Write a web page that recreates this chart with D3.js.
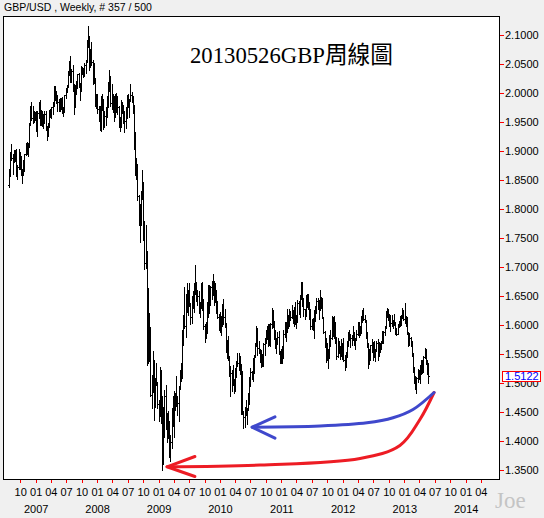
<!DOCTYPE html>
<html><head><meta charset="utf-8">
<script src="https://cdn.jsdelivr.net/npm/d3@7"></script>
<style>
html,body{margin:0;padding:0;background:#f0f0f0;}
svg{display:block;}
</style></head><body>
<svg id="chart" width="544" height="518"></svg>
<script>
// ---- data: weekly GBP/USD bars [open, high, low, close], first week starts 2006-07-24 ----
const startWeek = "2006-07-24";
const ohlc2006 = [
[1.8420,1.8700,1.8380,1.8660],[1.8660,1.9000,1.8580,1.8990],[1.8990,1.9130,1.8850,1.8880],[1.8880,1.8960,1.8620,1.8860],
[1.8860,1.9020,1.8820,1.8890],[1.8890,1.9030,1.8830,1.8990],[1.8990,1.9050,1.8580,1.8620],[1.8620,1.8760,1.8530,1.8740],
[1.8740,1.9040,1.8690,1.8960],[1.8960,1.8990,1.8690,1.8710],[1.8710,1.8920,1.8590,1.8610],[1.8610,1.8700,1.8450,1.8650],
[1.8650,1.8850,1.8590,1.8800],[1.8800,1.8960,1.8670,1.8950],[1.8950,1.9150,1.8940,1.9030],[1.9030,1.9160,1.8960,1.9090],
[1.9090,1.9150,1.8930,1.9120],[1.9120,1.9500,1.9080,1.9480],[1.9480,1.9790,1.9450,1.9760],[1.9760,1.9848,1.9540,1.9570],
[1.9570,1.9790,1.9500,1.9570],[1.9570,1.9690,1.9510,1.9660],[1.9660,1.9680,1.9550,1.9590]];
const ohlc2007 = [
[1.9590,1.9690,1.9350,1.9380],[1.9380,1.9690,1.9270,1.9660],[1.9660,1.9860,1.9580,1.9830],[1.9830,1.9880,1.9460,1.9530],
[1.9530,1.9720,1.9460,1.9610],[1.9610,1.9690,1.9440,1.9450],[1.9450,1.9650,1.9400,1.9560],[1.9560,1.9690,1.9500,1.9640],
[1.9640,1.9690,1.9370,1.9380],[1.9380,1.9440,1.9190,1.9320],[1.9320,1.9500,1.9270,1.9460],[1.9460,1.9720,1.9430,1.9640],
[1.9640,1.9730,1.9600,1.9680],[1.9680,1.9770,1.9570,1.9760],[1.9760,1.9850,1.9640,1.9800],[1.9800,2.0133,1.9790,2.0080],
[2.0080,2.0130,1.9890,1.9970],[1.9970,2.0050,1.9840,1.9930],[1.9930,1.9970,1.9700,1.9850],[1.9850,1.9900,1.9700,1.9710],
[1.9710,1.9930,1.9700,1.9900],[1.9900,1.9920,1.9740,1.9780],[1.9780,1.9940,1.9660,1.9710],[1.9710,1.9760,1.9620,1.9700],
[1.9700,1.9980,1.9680,1.9970],[1.9970,2.0090,1.9920,2.0070],[2.0070,2.0140,2.0030,2.0120],[2.0120,2.0390,2.0110,2.0340],
[2.0340,2.0560,2.0320,2.0480],[2.0480,2.0654,2.0190,2.0300],[2.0300,2.0420,2.0190,2.0380],[2.0380,2.0500,2.0050,2.0080],
[2.0080,2.0170,1.9645,1.9860],[1.9860,2.0150,1.9770,2.0140],[2.0140,2.0220,1.9990,2.0170],[2.0170,2.0340,2.0090,2.0330],
[2.0330,2.0360,2.0110,2.0150],[2.0150,2.0180,1.9890,2.0130],[2.0130,2.0470,2.0050,2.0440],[2.0440,2.0460,2.0330,2.0410],
[2.0410,2.0440,2.0290,2.0320],[2.0320,2.0530,2.0300,2.0490],[2.0490,2.0580,2.0360,2.0560],[2.0560,2.0920,2.0550,2.0890],
[2.0890,2.1161,2.0810,2.0970],[2.0970,2.0990,2.0400,2.0580],[2.0580,2.0760,2.0450,2.0730],[2.0730,2.0880,2.0490,2.0550],
[2.0550,2.0580,2.0170,2.0290],[2.0290,2.0530,2.0180,2.0210],[2.0210,2.0260,1.9790,1.9830],[1.9830,2.0000,1.9750,1.9950],
[1.9950,1.9990,1.9670,1.9730]];
const ohlc2008 = [
[1.9730,1.9790,1.9530,1.9570],[1.9570,1.9780,1.9370,1.9570],[1.9570,1.9960,1.9360,1.9860],[1.9860,1.9990,1.9720,1.9880],
[1.9880,1.9900,1.9380,1.9440],[1.9440,1.9700,1.9430,1.9610],[1.9610,1.9770,1.9450,1.9660],[1.9660,1.9960,1.9600,1.9840],
[1.9840,2.0200,1.9760,2.0150],[2.0150,2.0397,2.0050,2.0300],[2.0300,2.0310,1.9780,1.9830],[1.9830,2.0160,1.9730,1.9970],
[1.9970,1.9990,1.9680,1.9950],[1.9950,1.9960,1.9530,1.9720],[1.9720,1.9990,1.9600,1.9980],[1.9980,2.0010,1.9680,1.9750],
[1.9750,1.9960,1.9650,1.9760],[1.9760,1.9790,1.9430,1.9450],[1.9450,1.9600,1.9360,1.9500],[1.9500,1.9880,1.9420,1.9780],
[1.9780,1.9860,1.9660,1.9780],[1.9780,1.9800,1.9500,1.9650],[1.9650,1.9700,1.9340,1.9530],[1.9530,1.9760,1.9400,1.9720],
[1.9720,1.9980,1.9580,1.9950],[1.9950,1.9990,1.9760,1.9770],[1.9770,1.9910,1.9590,1.9880],[1.9880,2.0157,1.9870,1.9970],
[1.9970,2.0020,1.9860,1.9880],[1.9880,1.9960,1.9660,1.9790],[1.9790,1.9800,1.9050,1.9200],[1.9200,1.9340,1.8600,1.8660],
[1.8660,1.8880,1.8520,1.8600],[1.8600,1.8790,1.8170,1.8230],[1.8230,1.8250,1.7740,1.7790],[1.7790,1.8090,1.7447,1.8010],
[1.8010,1.8320,1.7730,1.8200],[1.8200,1.8680,1.8180,1.8440],[1.8440,1.8480,1.7480,1.7580],[1.7580,1.7800,1.6970,1.7080],
[1.7080,1.7730,1.6990,1.7280],[1.7280,1.7290,1.5320,1.5750],[1.5750,1.6640,1.5360,1.6180],[1.6180,1.6220,1.5390,1.5650],
[1.5650,1.5970,1.4780,1.4800],[1.4800,1.5140,1.4570,1.4870],[1.4870,1.5560,1.4860,1.5390],[1.5390,1.5400,1.4370,1.4650],
[1.4650,1.5100,1.4590,1.4980],[1.4980,1.5350,1.4970,1.5000],[1.5000,1.5020,1.4580,1.4650],[1.4650,1.4720,1.4350,1.4500]];
const ohlc2009 = [
[1.4500,1.5290,1.4440,1.5140],[1.5140,1.5230,1.4320,1.4700],[1.4700,1.4790,1.3503,1.3690],[1.3690,1.4590,1.3620,1.4470],
[1.4470,1.4890,1.4080,1.4780],[1.4780,1.4970,1.4220,1.4370],[1.4370,1.4490,1.4000,1.4440],[1.4440,1.4530,1.4060,1.4300],
[1.4300,1.4350,1.3740,1.4040],[1.4040,1.4110,1.3660,1.4000],[1.4000,1.4580,1.3880,1.4410],[1.4410,1.4780,1.4270,1.4320],
[1.4320,1.4870,1.4070,1.4790],[1.4790,1.4830,1.4550,1.4740],[1.4740,1.5130,1.4610,1.4750],[1.4750,1.4790,1.4460,1.4660],
[1.4660,1.4960,1.4360,1.4940],[1.4940,1.5230,1.4900,1.5190],[1.5190,1.5350,1.5050,1.5100],[1.5100,1.5920,1.5090,1.5900],
[1.5900,1.6180,1.5660,1.6160],[1.6160,1.6660,1.5950,1.6000],[1.6000,1.6550,1.5810,1.6500],[1.6500,1.6740,1.6240,1.6520],
[1.6520,1.6610,1.6180,1.6460],[1.6460,1.6740,1.6330,1.6340],[1.6340,1.6380,1.6030,1.6140],[1.6140,1.6510,1.6050,1.6430],
[1.6430,1.6590,1.6300,1.6500],[1.6500,1.6730,1.6240,1.6700],[1.6700,1.7043,1.6540,1.6640],[1.6640,1.6750,1.6420,1.6530],
[1.6530,1.6610,1.6350,1.6510],[1.6510,1.6600,1.6210,1.6260],[1.6260,1.6410,1.6150,1.6330],[1.6330,1.6740,1.6310,1.6720],
[1.6720,1.6750,1.6260,1.6300],[1.6300,1.6450,1.5940,1.6000],[1.6000,1.6020,1.5707,1.5920],[1.5920,1.6060,1.5790,1.5880],
[1.5880,1.6400,1.5870,1.6330],[1.6330,1.6690,1.6140,1.6600],[1.6600,1.6700,1.6220,1.6470],[1.6470,1.6680,1.6350,1.6660],
[1.6660,1.6770,1.6450,1.6670],[1.6670,1.6880,1.6530,1.6540],[1.6540,1.6760,1.6350,1.6500],[1.6500,1.6740,1.6410,1.6540],
[1.6540,1.6610,1.6210,1.6270],[1.6270,1.6430,1.6130,1.6140],[1.6140,1.6190,1.5927,1.5960],[1.5960,1.6240,1.5880,1.6150]];
const ohlc2010 = [
[1.6150,1.6170,1.5830,1.6020],[1.6020,1.6370,1.6000,1.6280],[1.6280,1.6460,1.6020,1.6150],[1.6150,1.6280,1.5970,1.5990],
[1.5990,1.6050,1.5550,1.5620],[1.5620,1.5750,1.5440,1.5650],[1.5650,1.5820,1.5400,1.5450],[1.5450,1.5480,1.5130,1.5230],
[1.5230,1.5310,1.4780,1.5180],[1.5180,1.5240,1.4870,1.5140],[1.5140,1.5320,1.4970,1.5000],[1.5000,1.5080,1.4830,1.4890],
[1.4890,1.5270,1.4870,1.5200],[1.5200,1.5390,1.5110,1.5380],[1.5380,1.5520,1.5310,1.5360],[1.5360,1.5530,1.5240,1.5360],
[1.5360,1.5480,1.5160,1.5300],[1.5300,1.5340,1.4470,1.4800],[1.4800,1.5220,1.4480,1.4510],[1.4510,1.4530,1.4230,1.4430],
[1.4430,1.4590,1.4250,1.4500],[1.4500,1.4710,1.4450,1.4460],[1.4460,1.4580,1.4310,1.4560],[1.4560,1.4840,1.4550,1.4800],
[1.4800,1.5110,1.4650,1.5100],[1.5100,1.5260,1.4950,1.5190],[1.5190,1.5210,1.5080,1.5120],[1.5120,1.5440,1.5050,1.5320],
[1.5320,1.5490,1.5180,1.5470],[1.5470,1.5700,1.5450,1.5690],[1.5690,1.5990,1.5650,1.5930],[1.5930,1.5950,1.5500,1.5610],
[1.5610,1.5740,1.5520,1.5560],[1.5560,1.5590,1.5370,1.5570],[1.5570,1.5580,1.5290,1.5470],[1.5470,1.5510,1.5300,1.5450],
[1.5450,1.5700,1.5310,1.5680],[1.5680,1.5780,1.5500,1.5770],[1.5770,1.5930,1.5690,1.5860],[1.5860,1.5990,1.5770,1.5930],
[1.5930,1.6030,1.5650,1.6000],[1.6000,1.6020,1.5660,1.5710],[1.5710,1.6040,1.5650,1.6020],[1.6020,1.6298,1.5960,1.6250],
[1.6250,1.6260,1.5970,1.6000],[1.6000,1.6070,1.5760,1.5920],[1.5920,1.5930,1.5610,1.5630],[1.5630,1.5780,1.5530,1.5740],
[1.5740,1.5880,1.5680,1.5810],[1.5810,1.5900,1.5510,1.5530],[1.5530,1.5560,1.5350,1.5430],[1.5430,1.5600,1.5350,1.5600]];
const ohlc2011 = [
[1.5600,1.5650,1.5350,1.5450],[1.5450,1.5930,1.5440,1.5850],[1.5850,1.6060,1.5800,1.6020],[1.6020,1.6060,1.5740,1.5940],
[1.5940,1.6280,1.5880,1.6140],[1.6140,1.6180,1.5960,1.6000],[1.6000,1.6280,1.5990,1.6240],[1.6240,1.6250,1.6090,1.6140],
[1.6140,1.6350,1.6130,1.6240],[1.6240,1.6270,1.6040,1.6060],[1.6060,1.6320,1.6000,1.6230],[1.6230,1.6400,1.6030,1.6050],
[1.6050,1.6180,1.5960,1.6130],[1.6130,1.6440,1.6060,1.6390],[1.6390,1.6420,1.6190,1.6320],[1.6320,1.6530,1.6150,1.6520],
[1.6520,1.6745,1.6460,1.6680],[1.6680,1.6750,1.6340,1.6400],[1.6400,1.6480,1.6170,1.6280],[1.6280,1.6290,1.6110,1.6270],
[1.6270,1.6520,1.6170,1.6500],[1.6500,1.6540,1.6320,1.6410],[1.6410,1.6550,1.6290,1.6290],[1.6290,1.6410,1.6110,1.6230],
[1.6230,1.6290,1.5940,1.6000],[1.6000,1.6120,1.5940,1.6100],[1.6100,1.6130,1.5920,1.5980],[1.5980,1.6270,1.5780,1.6140],
[1.6140,1.6330,1.6080,1.6300],[1.6300,1.6480,1.6220,1.6430],[1.6430,1.6470,1.6280,1.6360],[1.6360,1.6440,1.6110,1.6290],
[1.6290,1.6618,1.6260,1.6490],[1.6490,1.6500,1.6300,1.6440],[1.6440,1.6470,1.6130,1.6140],[1.6140,1.6150,1.5870,1.5890],
[1.5890,1.5900,1.5630,1.5780],[1.5780,1.5790,1.5370,1.5460],[1.5460,1.5690,1.5410,1.5580],[1.5580,1.5590,1.5270,1.5510],
[1.5510,1.5840,1.5440,1.5800],[1.5800,1.5930,1.5650,1.5780],[1.5780,1.6170,1.5770,1.6100],[1.6100,1.6140,1.5820,1.6000],
[1.6000,1.6160,1.5790,1.6050],[1.6050,1.6060,1.5690,1.5800],[1.5800,1.5810,1.5420,1.5470],[1.5470,1.5780,1.5460,1.5670],
[1.5670,1.5740,1.5530,1.5640],[1.5640,1.5650,1.5430,1.5560],[1.5560,1.5760,1.5470,1.5670],[1.5670,1.5700,1.5420,1.5540]];
const ohlc2012 = [
[1.5540,1.5780,1.5390,1.5410],[1.5410,1.5490,1.5235,1.5300],[1.5300,1.5550,1.5280,1.5500],[1.5500,1.5730,1.5460,1.5710],
[1.5710,1.5880,1.5640,1.5810],[1.5810,1.5930,1.5750,1.5790],[1.5790,1.5850,1.5630,1.5790],[1.5790,1.5840,1.5660,1.5780],
[1.5780,1.6000,1.5750,1.5850],[1.5850,1.5880,1.5660,1.5690],[1.5690,1.5780,1.5600,1.5750],[1.5750,1.5930,1.5750,1.5850],
[1.5850,1.6060,1.5840,1.5990],[1.5990,1.6060,1.5805,1.5850],[1.5850,1.6000,1.5830,1.5890],[1.5890,1.6160,1.5870,1.6140],
[1.6140,1.6270,1.6060,1.6240],[1.6240,1.6300,1.6090,1.6120],[1.6120,1.6180,1.6060,1.6090],[1.6090,1.6100,1.5790,1.5830],
[1.5830,1.5880,1.5630,1.5670],[1.5670,1.5700,1.5270,1.5360],[1.5360,1.5600,1.5340,1.5510],[1.5510,1.5660,1.5400,1.5660],
[1.5660,1.5770,1.5540,1.5570],[1.5570,1.5720,1.5410,1.5700],[1.5700,1.5740,1.5460,1.5500],[1.5500,1.5600,1.5390,1.5590],
[1.5590,1.5740,1.5560,1.5700],[1.5700,1.5770,1.5400,1.5700],[1.5700,1.5710,1.5480,1.5640],[1.5640,1.5690,1.5540,1.5620],
[1.5620,1.5730,1.5590,1.5700],[1.5700,1.5910,1.5690,1.5860],[1.5860,1.5900,1.5700,1.5880],[1.5880,1.6000,1.5830,1.5980],
[1.5980,1.6250,1.5960,1.6230],[1.6230,1.6309,1.6150,1.6230],[1.6230,1.6290,1.6100,1.6150],[1.6150,1.6200,1.6000,1.6150],
[1.6150,1.6180,1.5910,1.6050],[1.6050,1.6180,1.6000,1.6020],[1.6020,1.6100,1.5950,1.6090],[1.6090,1.6190,1.6010,1.6020],
[1.6020,1.6060,1.5860,1.5890],[1.5890,1.5950,1.5830,1.5860],[1.5860,1.6030,1.5850,1.6020],[1.6020,1.6080,1.5980,1.6030],
[1.6030,1.6170,1.5990,1.6080],[1.6080,1.6180,1.6010,1.6150],[1.6150,1.6310,1.6130,1.6250],[1.6250,1.6260,1.6090,1.6110],
[1.6110,1.6381,1.6050,1.6080]];
const ohlc2013 = [
[1.6080,1.6170,1.5990,1.6140],[1.6140,1.6150,1.5850,1.5860],[1.5860,1.5890,1.5650,1.5700],[1.5700,1.5870,1.5660,1.5780],
[1.5780,1.5800,1.5640,1.5650],[1.5650,1.5730,1.5480,1.5500],[1.5500,1.5530,1.5190,1.5200],[1.5200,1.5290,1.5010,1.5050],
[1.5050,1.5130,1.4900,1.4920],[1.4920,1.5110,1.4832,1.5100],[1.5100,1.5250,1.5030,1.5210],[1.5210,1.5240,1.5070,1.5200],
[1.5200,1.5320,1.5010,1.5310],[1.5310,1.5410,1.5170,1.5370],[1.5370,1.5410,1.5180,1.5260],[1.5260,1.5470,1.5190,1.5460],
[1.5460,1.5605,1.5440,1.5570],[1.5570,1.5600,1.5330,1.5370],[1.5370,1.5410,1.5160,1.5200],[1.5200,1.5360,1.5010,1.5122]];

const yTicks = [1.35,1.40,1.45,1.50,1.55,1.60,1.65,1.70,1.75,1.80,1.85,1.90,1.95,2.00,2.05,2.10];
const xTickDates = ["2006-10-01","2007-01-01","2007-04-01","2007-07-01","2007-10-01","2008-01-01","2008-04-01","2008-07-01",
  "2008-10-01","2009-01-01","2009-04-01","2009-07-01","2009-10-01","2010-01-01","2010-04-01","2010-07-01",
  "2010-10-01","2011-01-01","2011-04-01","2011-07-01","2011-10-01","2012-01-01","2012-04-01","2012-07-01",
  "2012-10-01","2013-01-01","2013-04-01","2013-07-01","2013-10-01","2014-01-01","2014-04-01"];
const yearLabels = ["2007","2008","2009","2010","2011","2012","2013","2014"];
const headerText = "GBP/USD , Weekly, # 357 / 500";
const titleText = "20130526GBP周線圖";
const watermark = "Joe";
const lastPrice = 1.5122;
// hand-drawn annotation arrows, in (date, price) space
const redArrow = [["2013-06-24",1.4845],["2013-04-01",1.4379],["2012-12-03",1.3931],["2012-04-10",1.3707],["2010-08-24",1.3595],["2009-02-17",1.3564]];
const redHead = [["2009-08-02",1.3741],["2009-02-17",1.3564],["2009-08-02",1.3397]];
const blueArrow = [["2013-06-24",1.4845],["2013-02-19",1.4552],["2012-10-23",1.4409],["2012-05-21",1.4322],["2011-08-16",1.4267],["2010-07-08",1.4247]];
const blueHead = [["2010-11-21",1.4426],["2010-07-08",1.4247],["2010-11-21",1.4057]];

// ---- drawing ----
const parse = d3.utcParse("%Y-%m-%d");
const svg = d3.select("#chart");
const FONT = "'Liberation Sans', Arial, sans-serif";

const x = d3.scaleUtc().domain([parse("2006-10-01"), parse("2014-04-01")]).range([20.7, 481.3]);
const y = d3.scaleLinear().domain([1.35, 2.10]).range([470.5, 35.5]);

svg.append("rect").attr("width",544).attr("height",518).attr("fill","#f0f0f0");
svg.append("rect").attr("x",3.5).attr("y",16.5).attr("width",496).attr("height",463)
  .attr("fill","#fff").attr("stroke","#000").attr("stroke-width",1);

svg.append("text").attr("x",4).attr("y",10.5).attr("font-family",FONT).attr("font-size",10.5)
  .attr("fill","#000").text(headerText);

const start = parse(startWeek);
const bars = [].concat(ohlc2006, ohlc2007, ohlc2008, ohlc2009, ohlc2010, ohlc2011, ohlc2012, ohlc2013)
  .map((d,i) => ({date: d3.utcDay.offset(start, 7*i), o:d[0], h:d[1], l:d[2], c:d[3]}));

const gb = svg.append("g").attr("shape-rendering","crispEdges").attr("fill","#000");
const bg = gb.selectAll("g").data(bars).join("g");
bg.append("rect")
  .attr("x", d => Math.round(x(d.date)))
  .attr("y", d => Math.round(y(Math.max(d.h,d.o,d.c))))
  .attr("width", 1)
  .attr("height", d => Math.round(y(Math.min(d.l,d.o,d.c))) - Math.round(y(Math.max(d.h,d.o,d.c))) + 1);
bg.append("rect")
  .attr("x", d => Math.round(x(d.date)) - 1).attr("y", d => Math.round(y(d.o)))
  .attr("width",1).attr("height",1);
bg.append("rect")
  .attr("x", d => Math.round(x(d.date)) + 1).attr("y", d => Math.round(y(d.c)))
  .attr("width",1).attr("height",1);

// y axis (right)
const gy = svg.append("g").attr("transform","translate(500,0)")
  .call(d3.axisRight(y).tickValues(yTicks).tickFormat(d3.format(".4f")).tickSize(4).tickPadding(1).offset(0));
gy.select(".domain").remove();
gy.selectAll("line").attr("stroke","#ff0000").attr("shape-rendering","crispEdges");
gy.attr("font-family",FONT).attr("font-size",11);
gy.selectAll("text").attr("fill","#000");

// x axis (bottom)
const gx = svg.append("g").attr("transform","translate(0,480)")
  .call(d3.axisBottom(x).tickValues(xTickDates.map(parse)).tickFormat(d3.utcFormat("%m")).tickSize(3).tickPadding(5).offset(0));
gx.select(".domain").remove();
gx.selectAll("line").attr("stroke","#ff0000").attr("shape-rendering","crispEdges");
gx.attr("font-family",FONT).attr("font-size",11);
gx.selectAll("text").attr("fill","#000");

svg.append("g").selectAll("text").data(yearLabels).join("text")
  .attr("x", d => x(parse(d + "-01-01")))
  .attr("y", 513).attr("text-anchor","middle")
  .attr("font-family",FONT).attr("font-size",11).attr("fill","#000")
  .text(d => d);

// last price box
const ly = y(lastPrice);
svg.append("rect").attr("x",502.5).attr("y",Math.round(ly) - 4.5).attr("width",38).attr("height",10)
  .attr("fill","#fff").attr("stroke","#ff0000").attr("stroke-width",1);
svg.append("text").attr("x",505).attr("y",ly).attr("dy","0.35em")
  .attr("font-family",FONT).attr("font-size",11).attr("fill","#0000ff").text(d3.format(".4f")(lastPrice));

// title
svg.append("text").attr("x",190).attr("y",63)
  .attr("font-family","'Liberation Serif', 'Times New Roman', 'Noto Sans CJK TC', serif")
  .attr("font-size",24).attr("fill","#000")
  .attr("textLength",203).attr("lengthAdjust","spacingAndGlyphs")
  .text(titleText);

// watermark
svg.append("text").attr("x",495).attr("y",508)
  .attr("font-family","'Liberation Serif', serif").attr("font-size",23).attr("fill","#c4c4c4")
  .text(watermark);

// annotations
const line = d3.line().x(d => x(parse(d[0]))).y(d => y(d[1]));
const curve = d3.line().x(d => x(parse(d[0]))).y(d => y(d[1])).curve(d3.curveCatmullRom.alpha(0.5));
[[redArrow, redHead, "#ed1c24"], [blueArrow, blueHead, "#3f48cc"]].forEach(([pts, head, col]) => {
  svg.append("path").attr("d", curve(pts)).attr("fill","none").attr("stroke",col)
    .attr("stroke-width",3).attr("stroke-linecap","round").attr("stroke-linejoin","round");
  svg.append("path").attr("d", line(head)).attr("fill","none").attr("stroke",col)
    .attr("stroke-width",3).attr("stroke-linecap","round").attr("stroke-linejoin","round");
});
</script>
</body></html>
